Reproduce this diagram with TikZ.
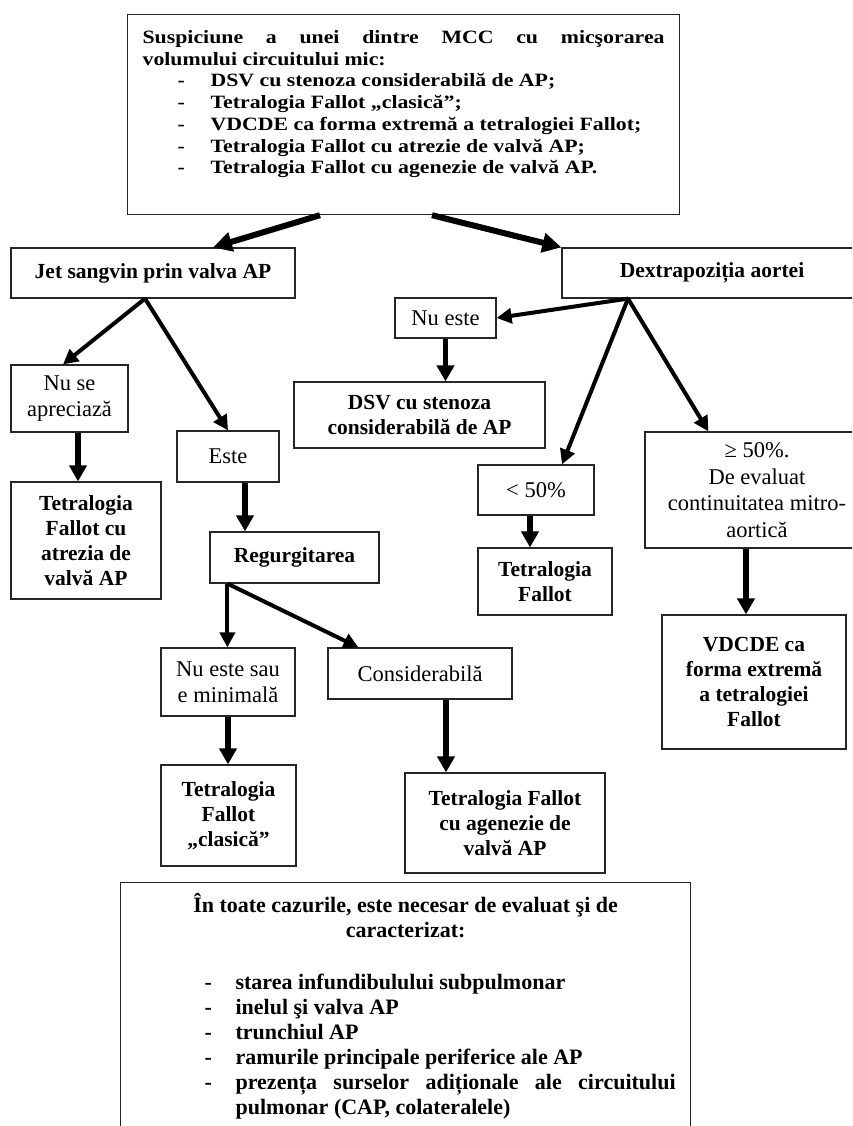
\documentclass[tikz,border=0pt]{standalone}
\usepackage{fontspec}
\setmainfont{Liberation Serif}
\newfontfamily\widefont[FakeStretch=1.16]{Liberation Serif}
\usetikzlibrary{arrows.meta}
\hyphenpenalty=10000
\exhyphenpenalty=10000

% list lines of the two text panels
\newcommand\topitem[1]{\par\noindent\hspace*{35pt}\makebox[33pt][l]{-}#1}
\newcommand\noteitem[1]{\par\noindent\hangindent=100pt\hangafter=1\hspace*{69pt}\makebox[31pt][l]{-}#1}

\begin{document}
\begin{tikzpicture}[x=1pt,y=-1pt,
  box/.style={draw=black!85, line width=1.2pt, inner sep=0pt, align=center, text=black},
  panel/.style={draw=black!85, line width=1.2pt, inner ysep=0pt, inner xsep=15pt, text=black},
  bold/.style={font=\fontsize{21.5}{25}\selectfont\bfseries},
  plain/.style={font=\fontsize{22.5}{26.5}\selectfont},
  link/.style={line width=4pt, -{Triangle[length=15pt,width=15pt]}},
  drop/.style={line width=5.5pt, -{Triangle[length=16pt,width=17pt]}},
  fork/.style={line width=6pt, -{Triangle[length=19pt,width=19pt]}},
]
\useasboundingbox (0,0) rectangle (852,1126);
\clip (0,0) rectangle (852,1126);

% opening question
\node[panel, anchor=north west] (top) at (127,14)
  {\widefont\fontsize{18.8}{21.7}\selectfont\bfseries
   \parbox[c][200pt][t]{522pt}{\hyphenpenalty=10000\vspace*{14pt}\rule{0pt}{15pt}Suspiciune a unei dintre MCC cu micşorarea\linebreak
   volumului circuitului mic:
   \topitem{DSV cu stenoza considerabilă de AP;}
   \topitem{Tetralogia Fallot „clasică”;}
   \topitem{VDCDE ca forma extremă a tetralogiei Fallot;}
   \topitem{Tetralogia Fallot cu atrezie de valvă AP;}
   \topitem{Tetralogia Fallot cu agenezie de valvă AP.}}};

% left branch
\node[box, bold, minimum width=284pt, minimum height=50pt] (jet) at (153,273) {Jet sangvin prin valva AP};
\node[box, plain, minimum width=117pt, minimum height=67pt] (nuse) at (69.5,398.5) {Nu se\\apreciază};
\node[box, plain, minimum width=102pt, minimum height=51pt] (este) at (228,456.5) {Este};
\node[box, bold, minimum width=150pt, minimum height=117pt] (atrezia) at (86,540.5) {Tetralogia\\Fallot cu\\atrezia de\\valvă AP};
\node[box, bold, minimum width=169pt, minimum height=51pt] (regurg) at (294.5,557.5) {Regurgitarea};
\node[box, plain, minimum width=134pt, minimum height=68pt] (minim) at (228,682) {Nu este sau\\e minimală};
\node[box, plain, minimum width=184pt, minimum height=51pt] (consid) at (420,673.5) {Considerabilă};
\node[box, bold, minimum width=135pt, minimum height=101pt] (clasica) at (228.5,815.5) {Tetralogia\\Fallot\\„clasică”};
\node[box, bold, minimum width=200pt, minimum height=100pt] (agenez) at (505,823) {Tetralogia Fallot\\cu agenezie de\\valvă AP};

% right branch
\node[box, bold, minimum width=300pt, minimum height=50pt] (dex) at (712,273) {Dextrapoziția aortei};
\node[box, plain, minimum width=101pt, minimum height=40pt] (nuest) at (445.5,318) {Nu este};
\node[box, bold, minimum width=251pt, minimum height=66pt] (dsv) at (419.5,415) {DSV cu stenoza\\considerabilă de AP};
\node[box, plain, minimum width=116pt, minimum height=50pt] (lt) at (536,490) {< 50\%};
\node[box, bold, minimum width=134pt, minimum height=67pt] (tf) at (545,581.5) {Tetralogia\\Fallot};
\node[box, plain, minimum width=224pt, minimum height=116pt] (ge) at (757,490) {≥ 50\%.\\De evaluat\\continuitatea mitro-\\aortică};
\node[box, bold, minimum width=184pt, minimum height=134pt] (vdcde) at (754,682) {VDCDE ca\\forma extremă\\a tetralogiei\\Fallot};

% closing remarks
\node[panel, anchor=north west] (notes) at (120,882)
  {\fontsize{22}{25}\selectfont\bfseries
   \parbox[c][260pt][t]{540pt}{\hyphenpenalty=10000\vspace*{8pt}{\centering\rule{0pt}{22pt}În toate cazurile, este necesar de evaluat şi de\\
   caracterizat:\par}\vspace{27pt}
   \noteitem{starea infundibulului subpulmonar}
   \noteitem{inelul şi valva AP}
   \noteitem{trunchiul AP}
   \noteitem{ramurile principale periferice ale AP}
   \noteitem{prezența surselor adiționale ale circuitului pulmonar (CAP, colateralele)}}};

% connectors
\draw[fork] ([xshift=193pt]top.south west) -- ([xshift=60pt]jet.north);
\draw[fork] ([xshift=305pt]top.south west) -- (dex.north west);

\draw[link] ([xshift=-8pt]jet.south) -- ([xshift=-6.5pt]nuse.north);
\draw[link] ([xshift=-8pt]jet.south) -- (este.north);
\draw[drop] ([xshift=8.5pt]nuse.south) -- ([xshift=8.5pt]nuse.south |- atrezia.north);
\draw[drop] ([xshift=17pt]este.south) -- ([xshift=17pt]este.south |- regurg.north);
\draw[link] ([xshift=18pt]regurg.south west) -- ([xshift=18pt]regurg.south west |- minim.north);
\draw[link] ([xshift=18pt]regurg.south west) -- ([xshift=31pt]consid.north west);
\draw[drop] (minim.south) -- (minim.south |- clasica.north);
\draw[drop] ([xshift=26pt]consid.south) -- ([xshift=26pt]consid.south |- agenez.north);

\draw[link] ([xshift=-84pt]dex.south) -- (nuest.east);
\draw[link] ([xshift=-84pt]dex.south) -- ([xshift=26pt]lt.north);
\draw[link] ([xshift=-84pt]dex.south) -- ([xshift=64pt]ge.north west);
\draw[drop] (nuest.south) -- (nuest.south |- dsv.north);
\draw[drop] ([xshift=-6pt]lt.south) -- ([xshift=-6pt]lt.south |- tf.north);
\draw[drop] ([xshift=-11pt]ge.south) -- ([xshift=-11pt]ge.south |- vdcde.north);
\end{tikzpicture}
\end{document}
